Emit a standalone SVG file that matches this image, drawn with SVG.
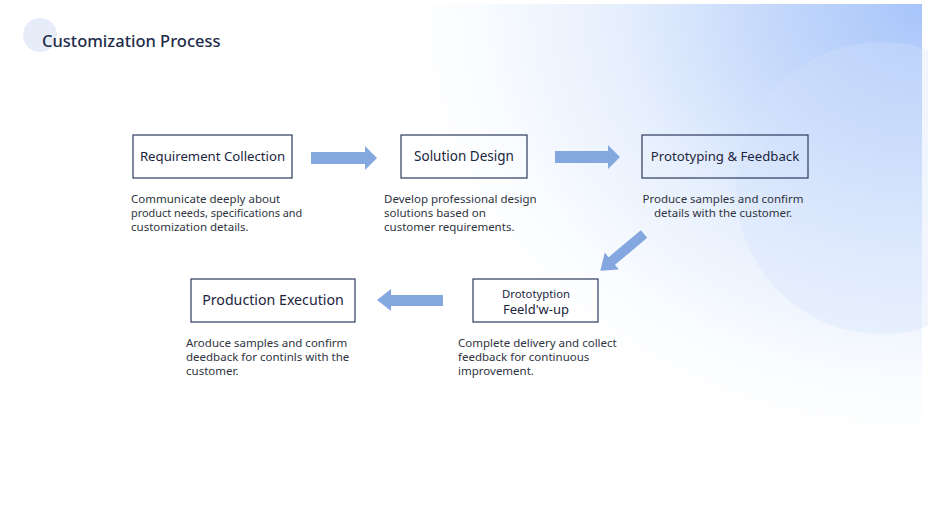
<svg xmlns="http://www.w3.org/2000/svg" width="928" height="510" viewBox="0 0 928 510">
<defs>
<radialGradient id="bg" gradientUnits="userSpaceOnUse" cx="928" cy="0" r="520" gradientTransform="translate(928 0) scale(1 0.85) translate(-928 0)">
<stop offset="0" stop-color="#a6c4fa"/>
<stop offset="0.3" stop-color="#c4d8fb"/>
<stop offset="0.6" stop-color="#e6effd"/>
<stop offset="0.85" stop-color="#f8fbff"/>
<stop offset="1" stop-color="#ffffff"/>
</radialGradient>
<style>
.box{fill:none;stroke:#2c3a5e;stroke-width:1.2}
.lbl{font-family:"Noto Sans","Open Sans","DejaVu Sans",sans-serif;font-size:13.5px;fill:#1c2540;text-anchor:middle}
.desc{font-family:"Noto Sans","Open Sans","DejaVu Sans",sans-serif;font-size:11.5px;fill:#2e3440}
.arr{fill:#85a7e0}
</style>
</defs>
<rect x="0" y="0" width="928" height="510" fill="#ffffff"/>
<rect x="0" y="4" width="922" height="506" fill="url(#bg)"/>
<circle cx="882" cy="188" r="146" fill="#d4e2fb" opacity="0.35"/>
<circle cx="40" cy="35" r="17" fill="#e7ecf9"/>
<text x="42" y="47" font-family="Noto Sans, Open Sans, sans-serif" font-size="16.5" font-weight="500" fill="#1e2b4a">Customization Process</text>

<g id="connectors">
<polygon class="arr" points="311,152 365,152 365,146 377,158 365,170 365,164 311,164"/>
<polygon class="arr" points="555,151 608,151 608,145 620,157 608,169 608,163 555,163"/>
<polygon class="arr" points="0,-5 42,-5 42,-11 57,0 42,11 42,5 0,5" transform="translate(644 234) rotate(140)"/>
<polygon class="arr" points="443,295 391,295 391,289 377,300 391,311 391,306 443,306"/>
</g>

<g id="node-requirement">
<rect class="box" x="133" y="135" width="159" height="43"/>
<text class="lbl" x="212.5" y="161" style="font-size:13.2px">Requirement Collection</text>
<text class="desc" x="131" y="203">Communicate deeply about</text>
<text class="desc" x="131" y="217" style="font-size:10.9px">product needs, specifications and</text>
<text class="desc" x="131" y="231">customization details.</text>
</g>

<g id="node-solution">
<rect class="box" x="401" y="135" width="126" height="43"/>
<text class="lbl" x="464" y="161">Solution Design</text>
<text class="desc" x="384" y="203">Develop professional design</text>
<text class="desc" x="384" y="217">solutions based on</text>
<text class="desc" x="384" y="231">customer requirements.</text>
</g>

<g id="node-prototyping">
<rect class="box" x="642" y="135" width="166" height="43"/>
<text class="lbl" x="725" y="161" style="font-size:13.2px">Prototyping &amp; Feedback</text>
<text class="desc" x="723" y="203" text-anchor="middle">Produce samples and confirm</text>
<text class="desc" x="723" y="217" text-anchor="middle">details with the customer.</text>
</g>

<g id="node-followup">
<rect class="box" x="473" y="279" width="125" height="43"/>
<text class="lbl" x="536" y="298" style="font-size:11.3px">Drototyption</text>
<text class="lbl" x="536" y="314" style="font-size:13px">Feeld'w-up</text>
<text class="desc" x="458" y="347">Complete delivery and collect</text>
<text class="desc" x="458" y="361">feedback for continuous</text>
<text class="desc" x="458" y="375">improvement.</text>
</g>

<g id="node-production">
<rect class="box" x="191" y="279" width="164" height="43"/>
<text class="lbl" x="273" y="305" style="font-size:14.2px">Production Execution</text>
<text class="desc" x="186" y="347">Aroduce samples and confirm</text>
<text class="desc" x="186" y="361">deedback for continls with the</text>
<text class="desc" x="186" y="375">customer.</text>
</g>
</svg>
